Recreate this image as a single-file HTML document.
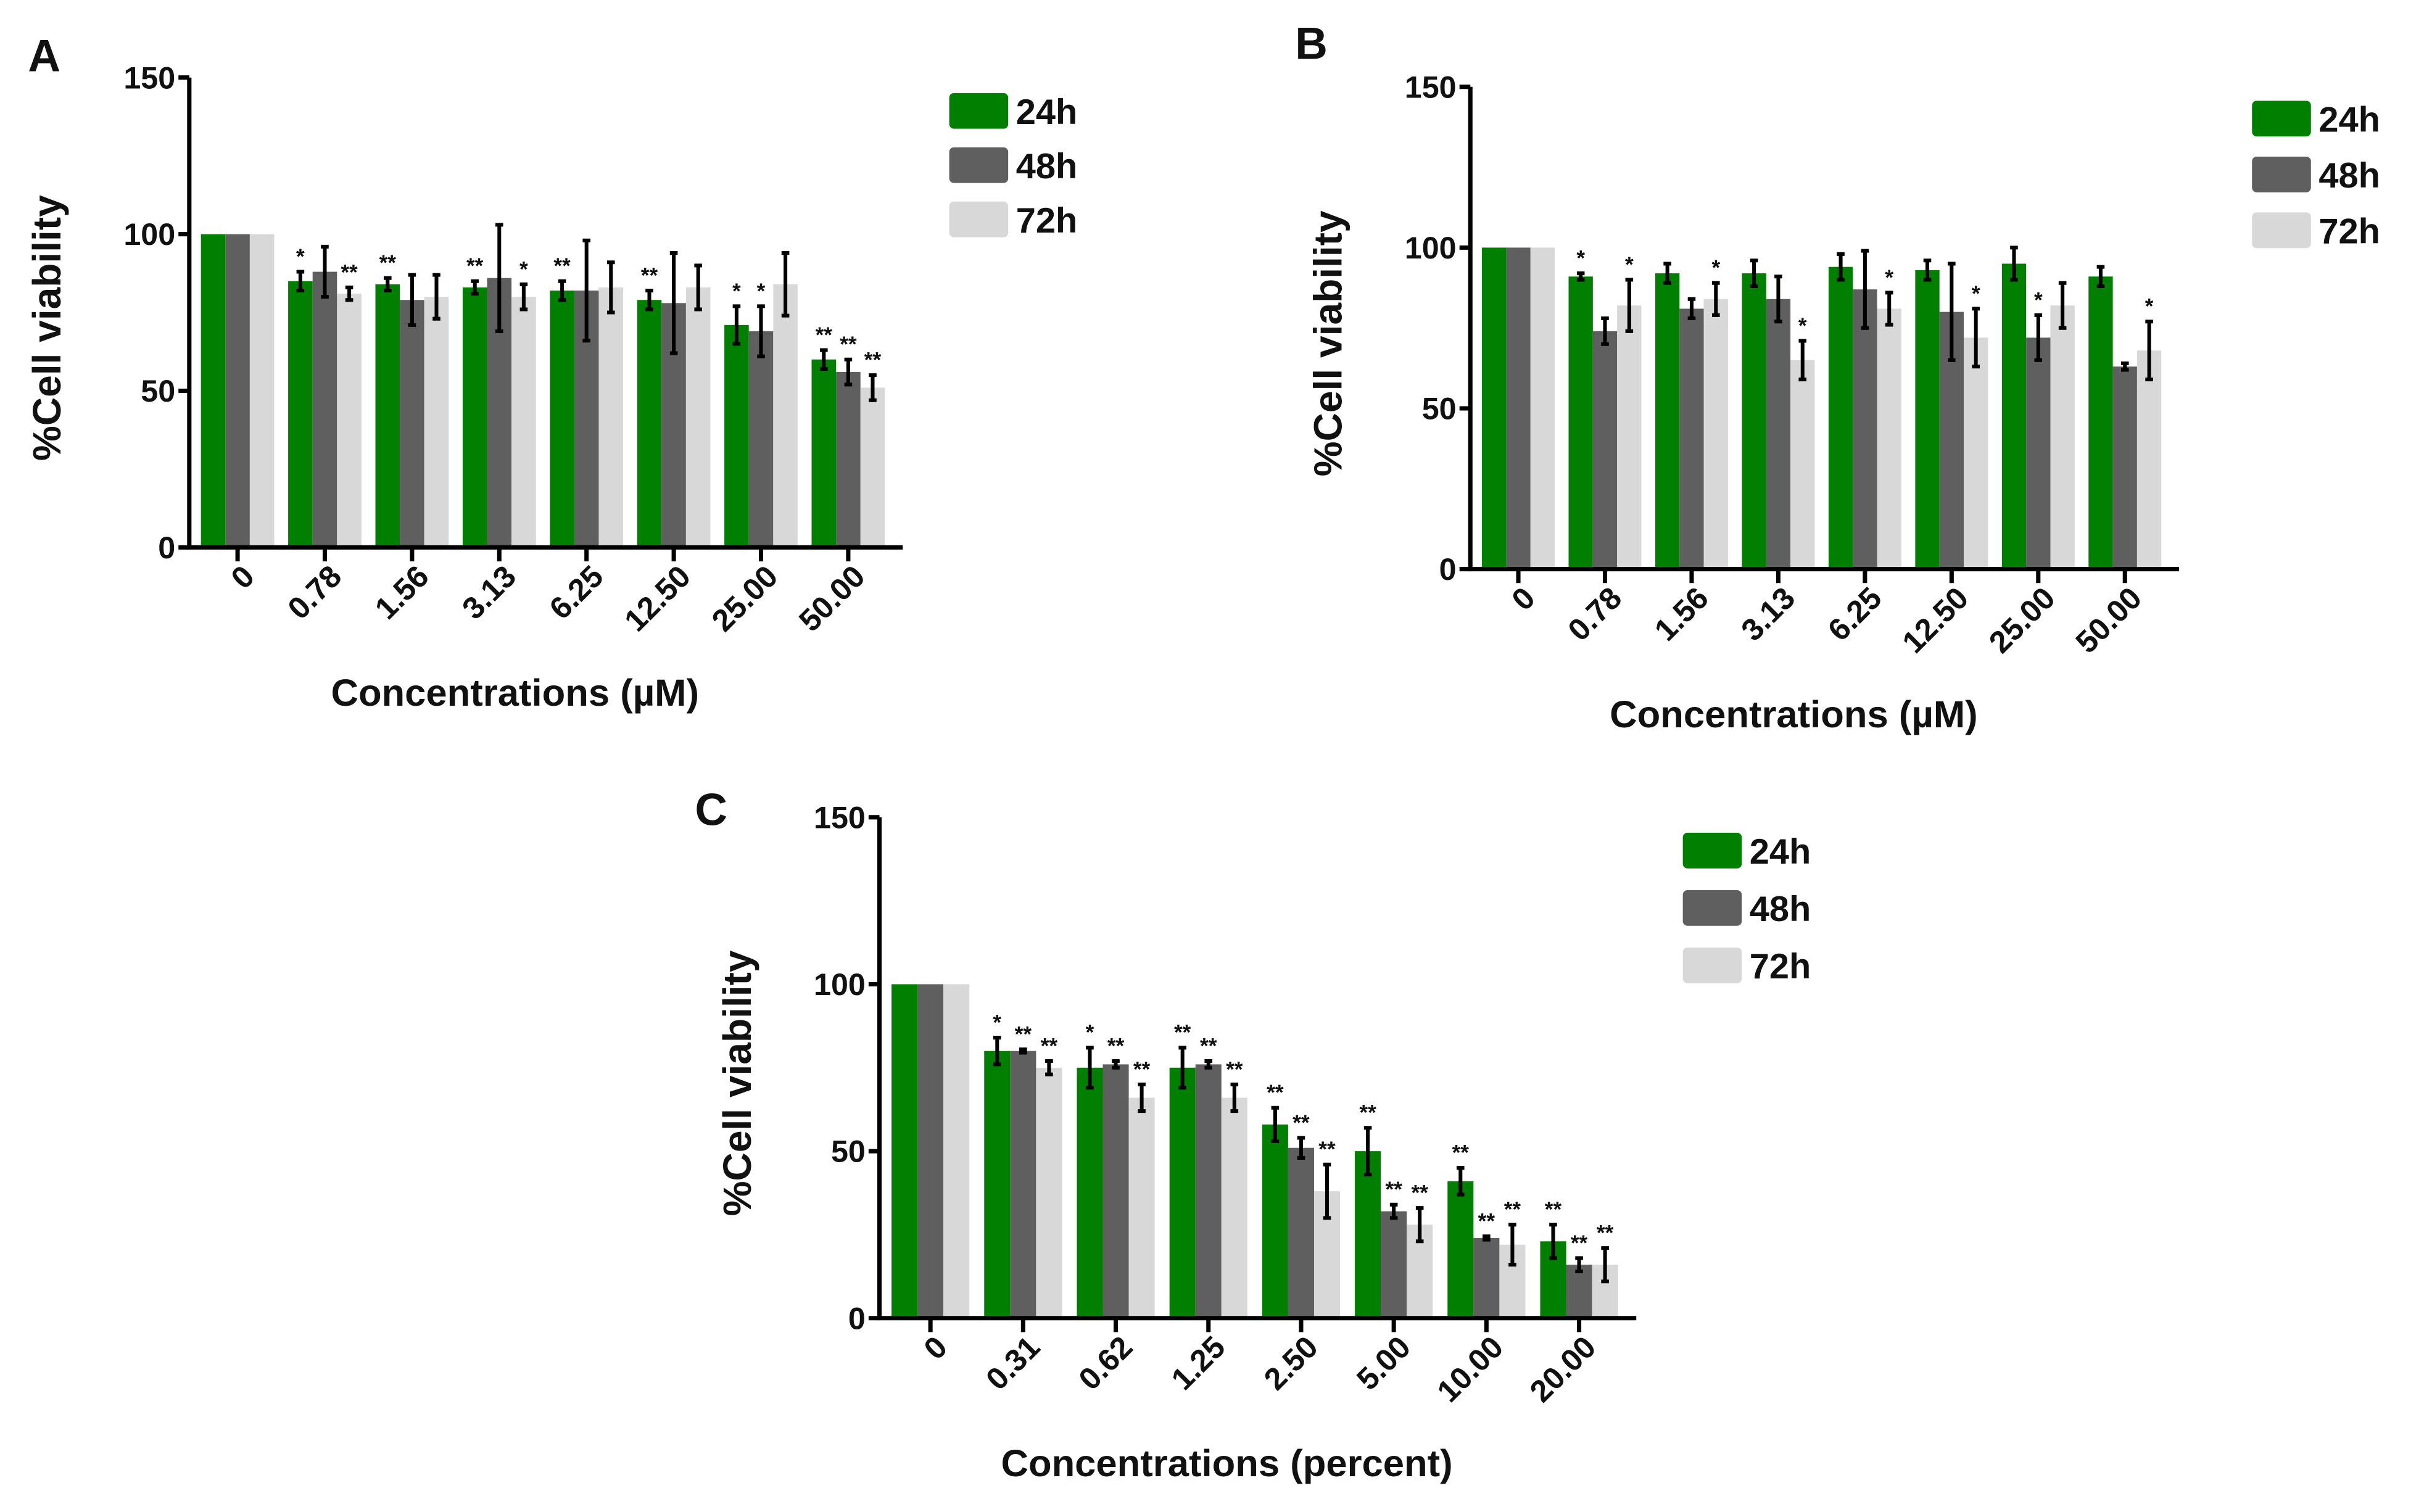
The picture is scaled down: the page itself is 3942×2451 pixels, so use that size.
<!DOCTYPE html>
<html><head><meta charset="utf-8"><style>body{margin:0;background:#fff}svg{display:block}text{font-family:"Liberation Sans",Arial,sans-serif;font-weight:bold;fill:#111}</style></head>
<body>
<svg id="fig" width="3942" height="2451" viewBox="0 0 1568 975" xmlns="http://www.w3.org/2000/svg"></svg>
<script>
const seriesNames=["24h","48h","72h"];
const colors=["#007f00","#5f5f5f","#d8d8d8"];
const catsA=["0","0.78","1.56","3.13","6.25","12.50","25.00","50.00"];
const a24=[100,85,84,83,82,79,71,60],a48=[100,88,79,86,82,78,69,56],a72=[100,81,80,80,83,83,84,51];
const a24e=[0,3,2,2,3,3,6,3],a48e=[0,8,8,17,16,16,8,4],a72e=[0,2,7,4,8,7,10,4];
const a24s=["","*","**","**","**","**","*","**"],a48s=["","","","","","","*","**"],a72s=["","**","","*","","","","**"];
const catsB=["0","0.78","1.56","3.13","6.25","12.50","25.00","50.00"];
const b24=[100,91,92,92,94,93,95,91],b48=[100,74,81,84,87,80,72,63],b72=[100,82,84,65,81,72,82,68];
const b24e=[0,1,3,4,4,3,5,3],b48e=[0,4,3,7,12,15,7,1],b72e=[0,8,5,6,5,9,7,9];
const b24s=["","*","","","","","",""],b48s=["","","","","","","*",""],b72s=["","*","*","*","*","*","","*"];
const catsC=["0","0.31","0.62","1.25","2.50","5.00","10.00","20.00"];
const c24=[100,80,75,75,58,50,41,23],c48=[100,80,76,76,51,32,24,16],c72=[100,75,66,66,38,28,22,16];
const c24e=[0,4,6,6,5,7,4,5],c48e=[0,0.5,1,1,3,2,0.5,2],c72e=[0,2,4,4,8,5,6,5];
const c24s=["","*","*","**","**","**","**","**"],c48s=["","**","**","**","**","**","**","**"],c72s=["","**","**","**","**","**","**","**"];
const yTicks=[0,50,100,150];
const NS="http://www.w3.org/2000/svg",svg=document.getElementById('fig');
function el(t,a,p){const e=document.createElementNS(NS,t);for(const k in a)e.setAttribute(k,a[k]);(p||svg).appendChild(e);return e;}
function panel(cfg){
 const g=el('g',{});
 
 
 const y=v=>cfg.y0-(cfg.y0-cfg.y150)*v/150;
 const n=cfg.cats.length,step=(cfg.x1-cfg.ax-cfg.pad)/n,bw=step*0.28;
 const cx=i=>cfg.ax+cfg.pad/2+step*(i+0.5)-2;
 const L=el('text',{x:cfg.lx,y:cfg.ly,'font-size':29},g);L.textContent=cfg.id;
 
 const ser=[cfg.v24,cfg.v48,cfg.v72],err=[cfg.e24,cfg.e48,cfg.e72],st=[cfg.s24,cfg.s48,cfg.s72];
 for(let s=0;s<3;s++)for(let i=0;i<n;i++){
  const x=cx(i)+(s-1)*bw-bw/2,top=y(ser[s][i]);
  const r=el('rect',{x:x,y:top,width:bw,height:cfg.y0-top,fill:colors[s]},g);
  
  
  const e=err[s][i];
  if(e>0){const mx=x+bw/2;
   const eb=el('path',{d:`M${mx},${y(ser[s][i]+e)}V${y(ser[s][i]-e)}M${mx-2.5},${y(ser[s][i]+e)}h5M${mx-2.5},${y(ser[s][i]-e)}h5`,stroke:'#000','stroke-width':2.4,fill:'none'},g);
   }
  if(st[s][i]){const t=el('text',{x:x+bw/2,y:y(ser[s][i]+e)-5,'font-size':14,'text-anchor':'middle','font-weight':'normal'},g);t.textContent=st[s][i];
   }
 }
 const ax=el('path',{d:`M${cfg.ax},${cfg.y150}V${cfg.y0}H${cfg.x1}`,stroke:'#000','stroke-width':2.8,fill:'none'},g);
 
 yTicks.forEach(v=>{el('path',{d:`M${cfg.ax-7},${y(v)}H${cfg.ax}`,stroke:'#000','stroke-width':2.8},g);
  const t=el('text',{x:cfg.ax-9,y:y(v)+7,'font-size':20,'text-anchor':'end'},g);t.textContent=v;
  });
 cfg.cats.forEach((c,i)=>{el('path',{d:`M${cx(i)},${cfg.y0}v9`,stroke:'#000','stroke-width':2.8},g);
  const t=el('text',{x:cx(i)+12,y:cfg.y0+20,'font-size':20,'text-anchor':'end',transform:`rotate(-45 ${cx(i)+12} ${cfg.y0+20})`},g);t.textContent=c;
  });
 const xt=el('text',{x:(cfg.ax+cfg.x1)/2-20,y:cfg.y0+102,'font-size':24.5,'text-anchor':'middle'},g);xt.textContent=cfg.xtitle;
 
 const ym=(cfg.y0+cfg.y150)/2+10;
 const yt=el('text',{x:cfg.ax-83,y:ym,'font-size':25.5,'text-anchor':'middle',transform:`rotate(-90 ${cfg.ax-83} ${ym})`},g);yt.textContent='%Cell viability';
 
 seriesNames.forEach((nm,s)=>{const ly=cfg.gy+s*cfg.gs;
  const lg=el('g',{},g);
  el('rect',{x:cfg.gx,y:ly-11,width:38,height:23,rx:3,fill:colors[s]},lg);
  const t=el('text',{x:cfg.gx+43,y:ly+9,'font-size':23,'font-weight':'normal'},lg);t.textContent=nm;});
}
panel({id:'A',lx:18,ly:46,ax:122,x1:582,pad:10,y0:353,y150:50,cats:catsA,v24:a24,v48:a48,v72:a72,e24:a24e,e48:a48e,e72:a72e,s24:a24s,s48:a48s,s72:a72s,xtitle:'Concentrations (µM)',gx:612,gy:71,gs:35});
panel({id:'B',lx:835,ly:38,ax:948,x1:1405,pad:10,y0:367,y150:56,cats:catsB,v24:b24,v48:b48,v72:b72,e24:b24e,e48:b48e,e72:b72e,s24:b24s,s48:b48s,s72:b72s,xtitle:'Concentrations (µM)',gx:1452,gy:76,gs:36});
panel({id:'C',lx:448,ly:532,ax:567,x1:1055,pad:10,y0:850,y150:527,cats:catsC,v24:c24,v48:c48,v72:c72,e24:c24e,e48:c48e,e72:c72e,s24:c24s,s48:c48s,s72:c72s,xtitle:'Concentrations (percent)',gx:1085,gy:548,gs:37});
</script>
</body></html>
